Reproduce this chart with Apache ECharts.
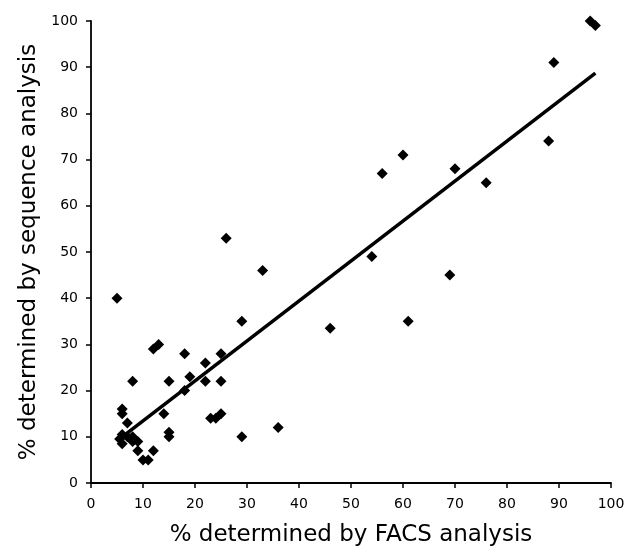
<!DOCTYPE html>
<html>
<head>
<meta charset="utf-8">
<script src="https://cdn.jsdelivr.net/npm/echarts@6/dist/echarts.min.js"></script>
<style>
html,body{margin:0;padding:0;background:#fff;}
#chart{width:638px;height:552px;}
</style>
</head>
<body>
<div id="chart"></div>
<script>
// FACS (%) vs sequence analysis (%)
var facs = [5, 29, 12, 13, 18, 25, 22, 19, 22, 25, 8, 15, 18, 14, 6, 6, 7, 23, 24, 25, 15, 15, 29, 36,
            6, 5.5, 6, 7, 8, 8, 9, 9, 10, 11, 12,
            26, 33, 46, 54, 56, 60, 70, 76, 69, 61, 88, 89, 96, 97];
var sequence = [40, 35, 29, 30, 28, 28, 26, 23, 22, 22, 22, 22, 20, 15, 16, 15, 13, 14, 14, 15, 11, 10, 10, 12,
                10.5, 9.5, 8.5, 10, 10, 9, 9, 7, 5, 5, 7,
                53, 46, 33.5, 49, 67, 71, 68, 65, 45, 35, 74, 91, 100, 99];
// trendline end points
var trendX = [5, 97];
var trendY = [9.1, 88.7];
var xTicks = [0, 10, 20, 30, 40, 50, 60, 70, 80, 90, 100];
var yTicks = [0, 10, 20, 30, 40, 50, 60, 70, 80, 90, 100];

var points = facs.map(function (x, i) { return [x, sequence[i]]; });
var trend = trendX.map(function (x, i) { return [x, trendY[i]]; });

var chart = echarts.init(document.getElementById('chart'));
var axisCommon = {
  type: 'value',
  min: xTicks[0],
  max: xTicks[xTicks.length - 1],
  interval: 10,
  splitLine: { show: false },
  axisLine: { show: true, onZero: false, lineStyle: { color: '#000', width: 1.8 } },
  axisTick: { show: true, inside: false, length: 5, lineStyle: { color: '#000', width: 1.5 } },
  axisLabel: { color: '#000', fontSize: 14, fontFamily: 'DejaVu Sans' },
  nameLocation: 'middle',
  nameTextStyle: { color: '#000', fontSize: 23, fontFamily: 'DejaVu Sans' }
};
chart.setOption({
  animation: false,
  backgroundColor: '#fff',
  grid: { left: 91, right: 27, top: 21, bottom: 68, containLabel: false },
  xAxis: Object.assign({}, axisCommon, {
    name: '% determined by FACS analysis',
    nameGap: 41,
    axisLabel: Object.assign({}, axisCommon.axisLabel, { margin: 14 })
  }),
  yAxis: Object.assign({}, axisCommon, {
    min: yTicks[0],
    max: yTicks[yTicks.length - 1],
    name: '% determined by sequence analysis',
    nameGap: 48,
    nameRotate: 90,
    axisLabel: Object.assign({}, axisCommon.axisLabel, { margin: 13 })
  }),
  series: [
    {
      type: 'line',
      data: trend,
      showSymbol: false,
      symbol: 'none',
      lineStyle: { color: '#000', width: 3.5 },
      z: 2
    },
    {
      type: 'scatter',
      data: points,
      symbol: 'diamond',
      symbolSize: [11, 11],
      itemStyle: { color: '#000', opacity: 1 },
      z: 3
    }
  ]
});
</script>
</body>
</html>
